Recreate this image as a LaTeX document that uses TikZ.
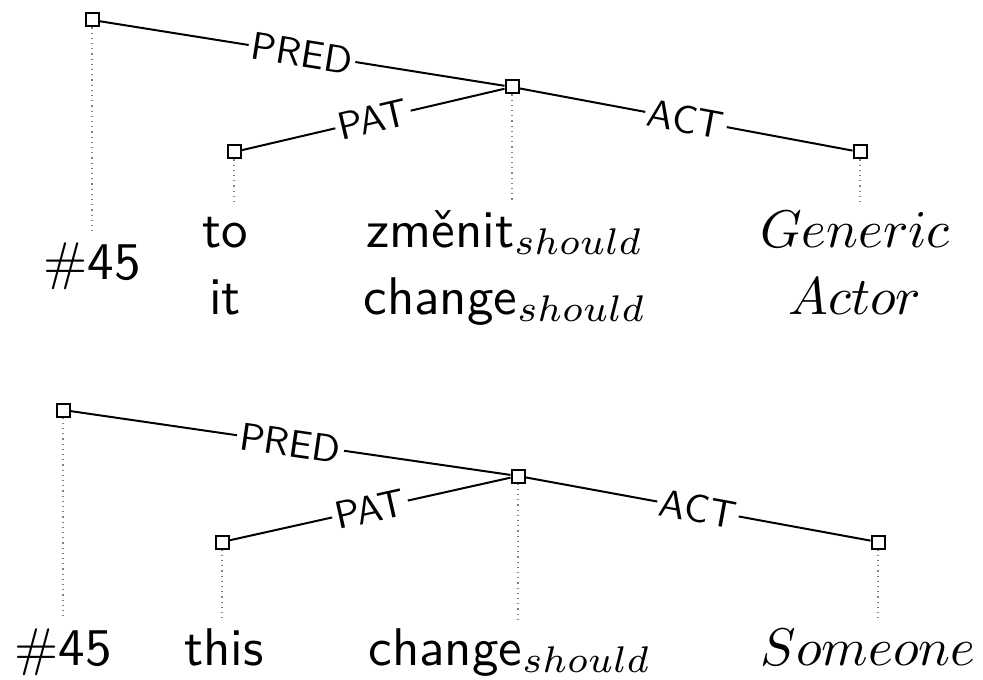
\documentclass[tikz,border=0pt]{standalone}
\usepackage{fontspec}
\begin{document}
\begin{tikzpicture}[x=0.5pt,y=-0.5pt,
  box/.style={draw,line width=1pt,minimum size=6.5pt,inner sep=0pt,fill=white},
  edge/.style={line width=1pt},
  lbl/.style={midway,sloped,fill=white,inner sep=0.8pt,font=\sffamily,scale=1.95,transform shape},
  word/.style={anchor=base,inner sep=0.8pt,text height=7.5pt,font=\sffamily,scale=2.65,transform shape},
  dots/.style={gray,dotted,line width=0.6pt}]
\useasboundingbox (0,0) rectangle (983,679);
% ---- upper tree ----
\node[box] (r1) at (92,20) {};
\node[box] (v1) at (512,87) {};
\node[box] (p1) at (234,152) {};
\node[box] (a1) at (860,152) {};
\node[word] (t1) at (92,279) {$\#$45};
\node[word] (t2) at (225,247) {to};
\node[word] (t2b) at (225,314) {it};
\node[word] (t3) at (505,247) {změnit$_{should}$};
\node[word] (t3b) at (505,314) {change$_{should}$};
\node[word] (t4) at (855,247) {$Generic$};
\node[word] (t4b) at (855,314) {$Actor$};
\draw[edge] (r1) -- (v1) node[lbl]{PRED};
\draw[edge] (p1) -- (v1) node[lbl]{PAT};
\draw[edge] (v1) -- (a1) node[lbl]{ACT};
\draw[dots] (r1) -- (r1 |- t1.north);
\draw[dots] (p1) -- (p1 |- t2.north);
\draw[dots] (v1) -- (v1 |- t3.north);
\draw[dots] (a1) -- (a1 |- t4.north);
% ---- lower tree ----
\node[box] (r2) at (63,410) {};
\node[box] (v2) at (518,476) {};
\node[box] (p2) at (222,542) {};
\node[box] (a2) at (878,542) {};
\node[word] (s1) at (63,665) {$\#$45};
\node[word] (s2) at (224,665) {this};
\node[word] (s3) at (510,665) {change$_{should}$};
\node[word] (s4) at (868,665) {$Someone$};
\draw[edge] (r2) -- (v2) node[lbl]{PRED};
\draw[edge] (p2) -- (v2) node[lbl]{PAT};
\draw[edge] (v2) -- (a2) node[lbl]{ACT};
\draw[dots] (r2) -- (r2 |- s1.north);
\draw[dots] (p2) -- (p2 |- s2.north);
\draw[dots] (v2) -- (v2 |- s3.north);
\draw[dots] (a2) -- (a2 |- s4.north);
\end{tikzpicture}
\end{document}
